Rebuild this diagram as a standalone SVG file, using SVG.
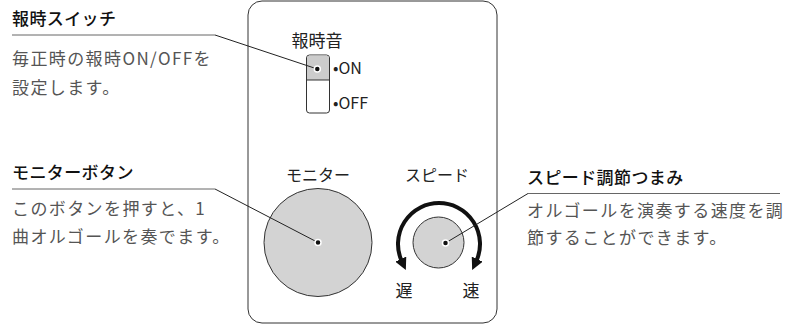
<svg xmlns="http://www.w3.org/2000/svg" width="795" height="325" viewBox="0 0 795 325">
<style>
text{font-family:"Noto Sans CJK JP","Noto Sans",sans-serif;}
.h{font-size:17px;font-weight:500;fill:#111;letter-spacing:0.4px;}
.b{font-size:17px;fill:#555;letter-spacing:1.4px;}
.p{font-size:16px;fill:#222;}
.pm{font-size:16px;fill:#222;text-anchor:middle;}
.ul{stroke:#666;stroke-width:1;fill:none;}
.ld{stroke:#222;stroke-width:1;fill:none;}
.dot{fill:#111;stroke:#fff;stroke-width:1.5;}
.knob{fill:#d3d3d3;stroke:#333;stroke-width:1;}
</style>
<defs>
<marker id="ah" viewBox="0 0 10 10" refX="2" refY="5" markerWidth="3" markerHeight="3" orient="auto-start-reverse" markerUnits="strokeWidth">
<path d="M0,0 L10,5 L0,10 Z" fill="#111"/>
</marker>
</defs>
<g id="panel">
<rect x="248" y="1" width="249" height="322" rx="14" ry="14" fill="#fff" stroke="#333" stroke-width="1"/>
</g>
<g id="switch">
<text class="pm" x="317" y="47" style="font-size:17px">報時音</text>
<rect x="306.5" y="55" width="23" height="58" rx="3" fill="#fff" stroke="#333" stroke-width="1"/>
<path d="M307,80 V58.5 a3,3 0 0 1 3,-3 H326 a3,3 0 0 1 3,3 V80 Z" fill="#ccc"/>
<line x1="306.5" y1="80" x2="329.5" y2="80" stroke="#333" stroke-width="1"/>
<text class="p" x="333" y="74">•ON</text>
<text class="p" x="333" y="109">•OFF</text>
</g>
<g id="monitor">
<text class="pm" x="318" y="181">モニター</text>
<circle class="knob" cx="318" cy="242.5" r="54"/>
</g>
<g id="speed">
<text class="pm" x="437" y="181">スピード</text>
<path d="M401.8,261.3 A41,41 0 1 1 476.2,261.3" fill="none" stroke="#111" stroke-width="4" marker-start="url(#ah)" marker-end="url(#ah)"/>
<circle class="knob" cx="438.5" cy="242.5" r="25.5"/>
<text class="pm" x="404" y="297" style="font-size:17px">遅</text>
<text class="pm" x="471" y="297" style="font-size:17px">速</text>
</g>
<g id="label-switch">
<text class="h" x="12" y="25">報時スイッチ</text>
<text class="b" x="12" y="65">毎正時の報時ON/OFFを</text>
<text class="b" x="12" y="94">設定します。</text>
</g>
<g id="label-monitor">
<text class="h" x="12" y="179">モニターボタン</text>
<text class="b" x="12" y="215">このボタンを押すと、1</text>
<text class="b" x="12" y="243">曲オルゴールを奏でます。</text>
</g>
<g id="label-speed">
<text class="h" x="527" y="184">スピード調節つまみ</text>
<text class="b" x="527" y="217">オルゴールを演奏する速度を調</text>
<text class="b" x="527" y="244">節することができます。</text>
</g>
<g id="connectors">
<polyline class="ul" points="12,35 215,35"/>
<polyline class="ld" points="215,35 317.3,69"/>
<polyline class="ul" points="12,189 215,189"/>
<polyline class="ld" points="215,189 318,242.5"/>
<polyline class="ul" points="528,193.5 780,193.5"/>
<polyline class="ld" points="528,193.5 445.5,243"/>
<circle class="dot" cx="317.3" cy="69" r="3"/>
<circle class="dot" cx="318" cy="242.5" r="3"/>
<circle class="dot" cx="445.5" cy="243" r="3"/>
</g>
</svg>
